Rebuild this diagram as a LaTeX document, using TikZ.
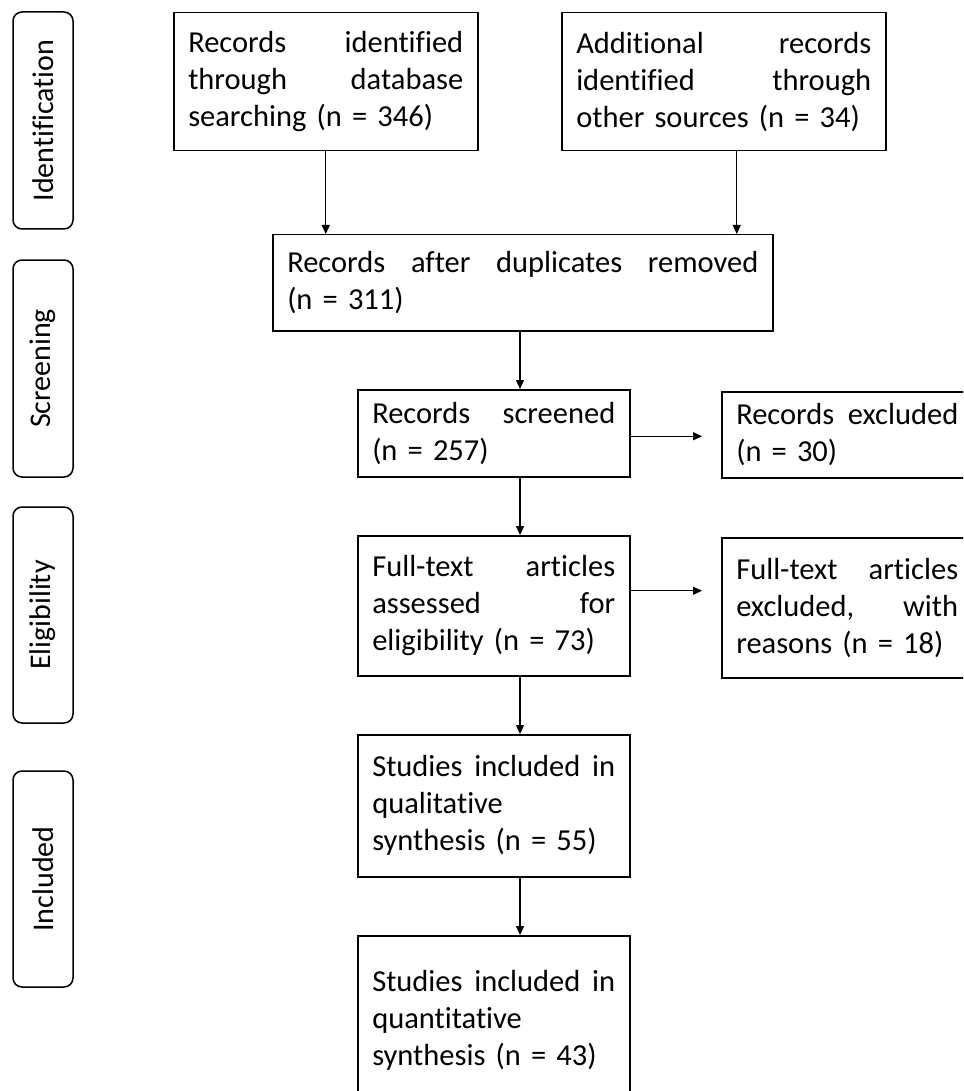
\documentclass[tikz,border=0pt]{standalone}
\usepackage{fontspec}
\setmainfont{Carlito}[Ligatures=NoCommon, WordSpace=0.8]
\usetikzlibrary{arrows.meta,calc}
\begin{document}
\begin{tikzpicture}[x=1pt,y=-1pt,
  box/.style={draw, line width=1.5pt, inner xsep=14.5pt, inner ysep=0pt, align=left,
    font=\fontsize{30.5}{37}\selectfont, anchor=north west},
  side/.style={draw, line width=1.5pt, rounded corners=9pt, minimum height=60pt,
    inner sep=0pt, font=\fontsize{30}{37}\selectfont, rotate=90},
  arr/.style={-{Triangle[length=9pt,width=8pt]}, line width=1.3pt}]
\useasboundingbox (0,0) rectangle (963,1091);
\clip (0,0) rectangle (963,1091);
% phase labels
\node[side, minimum width=217pt] (s1) at (43,120.5) {Identification};
\node[side, minimum width=217pt] (s2) at (43,368.5) {Screening};
\node[side, minimum width=216pt] (s3) at (43,615) {Eligibility};
\node[side, minimum width=216pt] (s4) at (43,879) {Included};
% boxes
\node[box, text width=275pt, minimum width=304pt, minimum height=138pt] (A) at (173,12)
  {Records\hfill identified\\through\hfill database\\searching (n = 346)};
\node[box, text width=295pt, minimum width=324pt, minimum height=138pt] (B) at (561,12)
  {Additional\hfill records\\identified\hfill through\\other sources (n = 34)};
\node[box, text width=471pt, minimum width=500pt, minimum height=96pt] (C) at (272,234)
  {Records\hfill after\hfill duplicates\hfill removed\\(n = 311)};
\node[box, text width=243pt, minimum width=272pt, minimum height=87pt] (D) at (357,389)
  {Records\hfill screened\\(n = 257)};
\node[box, text width=222pt, minimum width=251pt, minimum height=86pt] (E) at (721,391)
  {Records\hfill excluded\\(n = 30)};
\node[box, text width=243pt, minimum width=272pt, minimum height=140pt] (F) at (357,535)
  {Full-text\hfill articles\\assessed\hfill for\\eligibility (n = 73)};
\node[box, text width=222pt, minimum width=251pt, minimum height=140pt] (G) at (721,537)
  {Full-text\hfill articles\\excluded,\hfill with\\reasons (n = 18)};
\node[box, text width=243pt, minimum width=272pt, minimum height=142pt] (H) at (357,734)
  {Studies\hfill included\hfill in\\qualitative\\synthesis (n = 55)};
\node[box, text width=243pt, minimum width=272pt, minimum height=201pt] (I) at (357,935)
  {Studies\hfill included\hfill in\\quantitative\\synthesis (n = 43)\\\mbox{}};
% connectors
\coordinate (ax) at (520,0);
\coordinate (bx) at ($(B.south)+(13,0)$);
\coordinate (de) at ($(D.east)+(0,3)$);
\coordinate (fg) at ($(F.east)+(0,-15)$);
\draw[arr] (A.south) -- (A.south |- C.north);
\draw[arr] (bx) -- (bx |- C.north);
\draw[arr] (C.south -| ax) -- (D.north -| ax);
\draw[arr] (D.south -| ax) -- (F.north -| ax);
\draw[arr] (F.south -| ax) -- (H.north -| ax);
\draw[arr] (H.south -| ax) -- (I.north -| ax);
\draw[arr, shorten >=19pt] (de) -- (de -| E.west);
\draw[arr, shorten >=19pt] (fg) -- (fg -| G.west);
\end{tikzpicture}
\end{document}
